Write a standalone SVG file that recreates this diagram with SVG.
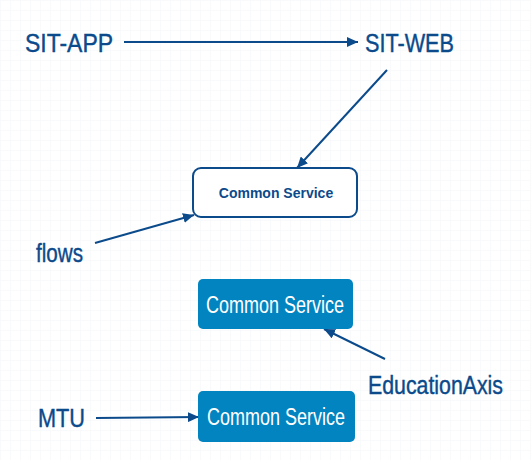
<svg xmlns="http://www.w3.org/2000/svg" width="531" height="460" viewBox="0 0 531 460">
  <defs>
    <pattern id="grid" width="10" height="10" patternUnits="userSpaceOnUse">
      <path d="M10 0 L0 0 0 10" fill="none" stroke="#f4f6f8" stroke-width="1"/>
    </pattern>
    <marker id="arr" markerUnits="userSpaceOnUse" markerWidth="11" markerHeight="10" refX="11" refY="5" orient="auto">
      <path d="M0 0 L11 5 L0 10 Z" fill="#0b4a8b"/>
    </marker>
  </defs>
  <style>
    .lbl { font-family: "Liberation Sans", "DejaVu Sans", sans-serif; font-size: 25px; fill: #0b4a8b; stroke: #0b4a8b; stroke-width: 0.4; }
    .box1 { fill: #ffffff; stroke: #0b4a8b; stroke-width: 2; }
    .t1 { font-family: "Liberation Sans", Arial, sans-serif; font-size: 14px; font-weight: bold; fill: #0b4a8b; }
    .box2 { fill: #0284c0; }
    .t2 { font-family: "Liberation Sans", "DejaVu Sans", sans-serif; font-size: 23px; fill: #ffffff; }
    .conn { stroke: #0b4a8b; stroke-width: 2; fill: none; marker-end: url(#arr); }
  </style>
  <rect width="531" height="460" fill="#ffffff"/>
  <rect width="531" height="460" fill="url(#grid)"/>

  <g id="connectors">
    <line class="conn" x1="124" y1="42" x2="358" y2="42"/>
    <line class="conn" x1="387" y1="70" x2="297" y2="168"/>
    <line class="conn" x1="95" y1="243" x2="194" y2="215"/>
    <line class="conn" x1="385" y1="359" x2="324" y2="329"/>
    <line class="conn" x1="96" y1="418" x2="199" y2="417"/>
  </g>

  <g id="sit-app"><text class="lbl" x="25" y="52" textLength="88" lengthAdjust="spacingAndGlyphs">SIT-APP</text></g>
  <g id="sit-web"><text class="lbl" x="365" y="52" textLength="89" lengthAdjust="spacingAndGlyphs">SIT-WEB</text></g>
  <g id="flows"><text class="lbl" x="36" y="262" textLength="47" lengthAdjust="spacingAndGlyphs">flows</text></g>
  <g id="educationaxis"><text class="lbl" x="368" y="394" textLength="135" lengthAdjust="spacingAndGlyphs">EducationAxis</text></g>
  <g id="mtu"><text class="lbl" x="38" y="427" textLength="47" lengthAdjust="spacingAndGlyphs">MTU</text></g>

  <g id="common-service-1">
    <rect class="box1" x="193" y="168" width="164" height="49" rx="8"/>
    <text class="t1" x="276" y="198" text-anchor="middle">Common Service</text>
  </g>
  <g id="common-service-2">
    <rect class="box2" x="198" y="279" width="155" height="50" rx="5"/>
    <text class="t2" x="206" y="313" textLength="138" lengthAdjust="spacingAndGlyphs">Common Service</text>
  </g>
  <g id="common-service-3">
    <rect class="box2" x="198" y="391" width="157" height="51" rx="5"/>
    <text class="t2" x="207" y="425" textLength="138" lengthAdjust="spacingAndGlyphs">Common Service</text>
  </g>
</svg>
